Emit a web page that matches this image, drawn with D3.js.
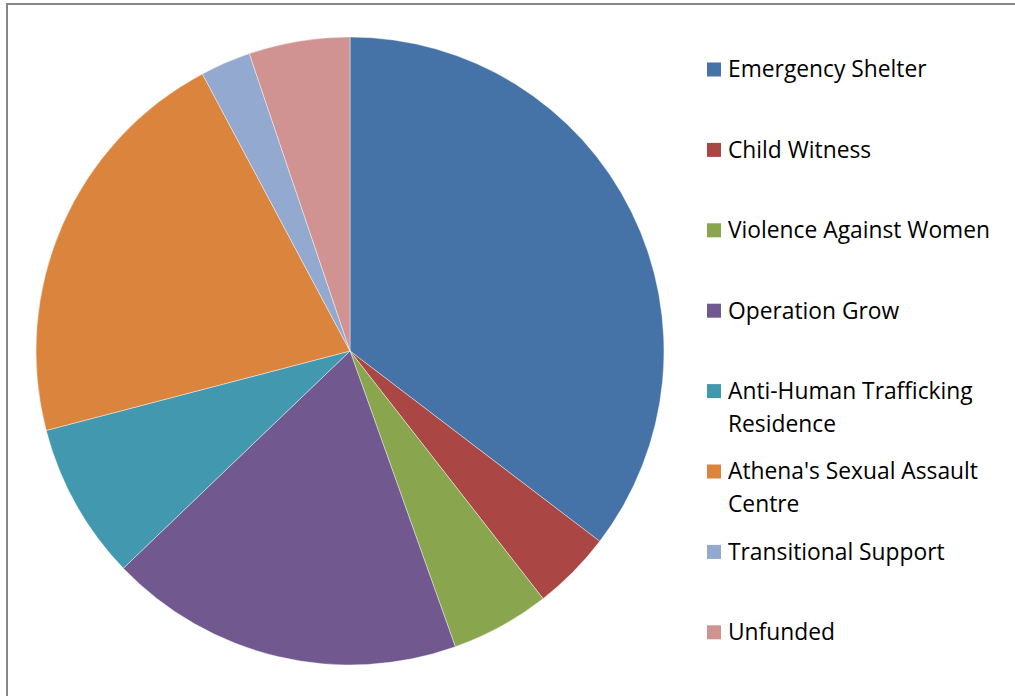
<!DOCTYPE html>
<html>
<head>
<meta charset="utf-8">
<script src="https://cdn.jsdelivr.net/npm/d3@7"></script>
<style>
  body { margin: 0; background: #fff; }
  svg { display: block; }
</style>
</head>
<body>
<svg id="chart" width="1015" height="696"></svg>
<script>
// program shares (percent)
var programs = ["Emergency Shelter", "Child Witness", "Violence Against Women", "Operation Grow",
                "Anti-Human Trafficking Residence", "Athena's Sexual Assault Centre",
                "Transitional Support", "Unfunded"];
var shares = [35.4, 4.1, 5.1, 18.3, 8.1, 21.3, 2.6, 5.2];
var colors = ["#4572A7", "#AA4643", "#89A54E", "#71588F", "#4198AF", "#DB843D", "#93A9CF", "#D19392"];
// legend labels wrapped as in the picture
var legendLines = [["Emergency Shelter"], ["Child Witness"], ["Violence Against Women"], ["Operation Grow"],
                   ["Anti-Human Trafficking", "Residence"], ["Athena's Sexual Assault", "Centre"],
                   ["Transitional Support"], ["Unfunded"]];

var svg = d3.select("#chart"),
    width = +svg.attr("width"),
    height = +svg.attr("height");

// chart area frame (cut off at right and bottom)
svg.append("path")
    .attr("d", "M7,696 V4 H1015")
    .attr("fill", "none")
    .attr("stroke", "#868686")
    .attr("stroke-width", 2);

var color = d3.scaleOrdinal().domain(programs).range(colors);

var cx = 350, cy = 351, radius = 314;

var pie = d3.pie().sort(null).value(function(d) { return d.value; });
var arc = d3.arc().innerRadius(0).outerRadius(radius);

var data = programs.map(function(p, i) { return { name: p, value: shares[i] }; });

svg.append("g")
    .attr("transform", "translate(" + cx + "," + cy + ")")
  .selectAll("path")
  .data(pie(data))
  .enter().append("path")
    .attr("d", arc)
    .attr("fill", function(d) { return color(d.data.name); })
    .attr("stroke", "#ffffff")
    .attr("stroke-opacity", 0.6)
    .attr("stroke-width", 0.7);

var legend = svg.selectAll(".legend")
  .data(programs)
  .enter().append("g")
    .attr("class", "legend")
    .attr("transform", function(d, i) { return "translate(707," + (69.5 + i * 80.4) + ")"; });

legend.append("rect")
    .attr("x", 0)
    .attr("y", -7)
    .attr("width", 14)
    .attr("height", 14)
    .attr("fill", function(d) { return color(d); });

legend.append("text")
    .attr("x", 21)
    .attr("y", 0)
    .style("font-family", "'Open Sans', sans-serif")
    .style("font-size", "22.8px")
    .style("fill", "#000")
    .each(function(d, i) {
      var t = d3.select(this);
      legendLines[i].forEach(function(line, j) {
        t.append("tspan")
          .attr("x", 21)
          .attr("dy", j === 0 ? "0.35em" : 33)
          .text(line);
      });
    });
</script>
</body>
</html>
